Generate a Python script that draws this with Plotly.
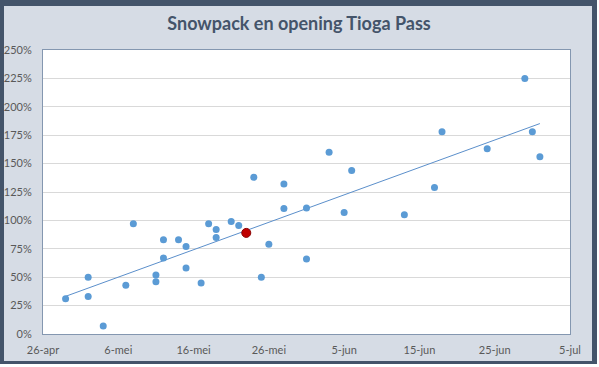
import numpy as np
import pandas as pd
import plotly.graph_objects as go

# Opening dates (mapped onto one season) and snowpack (% of normal)
dates = ["2015-04-29", "2015-05-02", "2015-05-02", "2015-05-04", "2015-05-07", "2015-05-08",
         "2015-05-11", "2015-05-11", "2015-05-12", "2015-05-12", "2015-05-14", "2015-05-15",
         "2015-05-15", "2015-05-17", "2015-05-18", "2015-05-19", "2015-05-19", "2015-05-21",
         "2015-05-22", "2015-05-24", "2015-05-25", "2015-05-26", "2015-05-28", "2015-05-28",
         "2015-05-31", "2015-05-31", "2015-06-03", "2015-06-05", "2015-06-06", "2015-06-13",
         "2015-06-17", "2015-06-18", "2015-06-24", "2015-06-29", "2015-06-30", "2015-07-01"]
snowpack = [0.31, 0.50, 0.33, 0.07, 0.43, 0.97,
            0.52, 0.46, 0.67, 0.83, 0.83, 0.77,
            0.58, 0.45, 0.97, 0.92, 0.85, 0.99,
            0.955, 1.38, 0.50, 0.79, 1.32, 1.105,
            1.11, 0.66, 1.60, 1.07, 1.44, 1.05,
            1.29, 1.78, 1.63, 2.25, 1.78, 1.56]

# Highlighted (current) year
highlight_date = ["2015-05-23"]
highlight_value = [0.89]

tick_dates = ["2015-04-26", "2015-05-06", "2015-05-16", "2015-05-26", "2015-06-05",
              "2015-06-15", "2015-06-25", "2015-07-05"]
tick_labels = ["26-apr", "6-mei", "16-mei", "26-mei", "5-jun", "15-jun", "25-jun", "5-jul"]
y_ticks = [0, 0.25, 0.5, 0.75, 1.0, 1.25, 1.5, 1.75, 2.0, 2.25, 2.5]
y_tick_labels = ["0%", "25%", "50%", "75%", "100%", "125%", "150%", "175%", "200%", "225%", "250%"]

# Linear trendline (as Excel's) over all points
all_d = pd.to_datetime(dates + highlight_date)
all_v = np.array(snowpack + highlight_value)
t0 = pd.Timestamp("2015-04-26")
days = np.array([(d - t0).days for d in all_d], dtype=float)
slope, intercept = np.polyfit(days, all_v, 1)
tx = np.array([days.min(), days.max()])
trend_dates = [t0 + pd.Timedelta(days=float(v)) for v in tx]
trend_vals = slope * tx + intercept

W, H = 599, 367
L, R, T, B = 43, 29, 50, 33

fig = go.Figure()
fig.add_trace(go.Scatter(x=trend_dates, y=trend_vals, mode="lines",
                         line=dict(color="#5B8FCB", width=1), hoverinfo="skip"))
fig.add_trace(go.Scatter(x=dates, y=snowpack, mode="markers",
                         marker=dict(color="#5B9BD5", size=7, line=dict(width=0))))
fig.add_trace(go.Scatter(x=highlight_date, y=highlight_value, mode="markers",
                         marker=dict(color="#C00000", size=9, line=dict(color="#8B0000", width=1))))

pw = W - L - R
ph = H - T - B
def px2x(p):
    return (p - L) / pw
def px2y(p):
    return (H - B - p) / ph

shapes = [
    dict(type="rect", xref="paper", yref="paper", layer="below",
         x0=px2x(4), x1=px2x(592), y0=px2y(361), y1=px2y(6),
         fillcolor="#D6DCE5", line=dict(width=0)),
    dict(type="rect", xref="paper", yref="paper", layer="below",
         x0=0, x1=1, y0=0, y1=1, fillcolor="white", line=dict(width=0)),
    dict(type="rect", xref="paper", yref="paper", layer="below",
         x0=px2x(597), x1=px2x(600), y0=px2y(368), y1=px2y(-1),
         fillcolor="white", line=dict(width=0)),
    dict(type="rect", xref="paper", yref="paper", layer="below",
         x0=px2x(-1), x1=px2x(600), y0=px2y(368), y1=px2y(364),
         fillcolor="white", line=dict(width=0)),
]

fig.update_layout(
    width=W, height=H,
    margin=dict(l=L, r=R, t=T, b=B, pad=0, autoexpand=False),
    paper_bgcolor="#44546A",
    plot_bgcolor="white",
    showlegend=False,
    shapes=shapes,
    font=dict(family="Lato", size=11, color="#595959"),
    title=dict(text="Snowpack en opening Tioga Pass", x=299 / W, xref="container", xanchor="center",
               y=1 - 24 / H, yanchor="middle", yref="container",
               font=dict(family="Lato", size=18, color="#44546A", weight="bold")),
)
fig.update_xaxes(type="date", range=[tick_dates[0], tick_dates[-1]],
                 tickvals=tick_dates, ticktext=tick_labels,
                 showgrid=False, zeroline=False, ticks="", automargin=False,
                 showline=True, linecolor="#8497B0", linewidth=1, mirror=True,
                 ticklabelstandoff=6, tickfont=dict(size=11, color="#595959"))
fig.update_yaxes(range=[0, 2.5], tickvals=y_ticks, ticktext=y_tick_labels,
                 showgrid=True, gridcolor="#D9D9D9", gridwidth=1, zeroline=False, ticks="",
                 automargin=False,
                 showline=True, linecolor="#8497B0", linewidth=1, mirror=True,
                 ticklabelstandoff=8, tickfont=dict(size=11, color="#595959"))

fig.write_html("out.html", config={"displayModeBar": False},
               post_script="document.body.style.margin='0';document.body.style.overflow='hidden';")
